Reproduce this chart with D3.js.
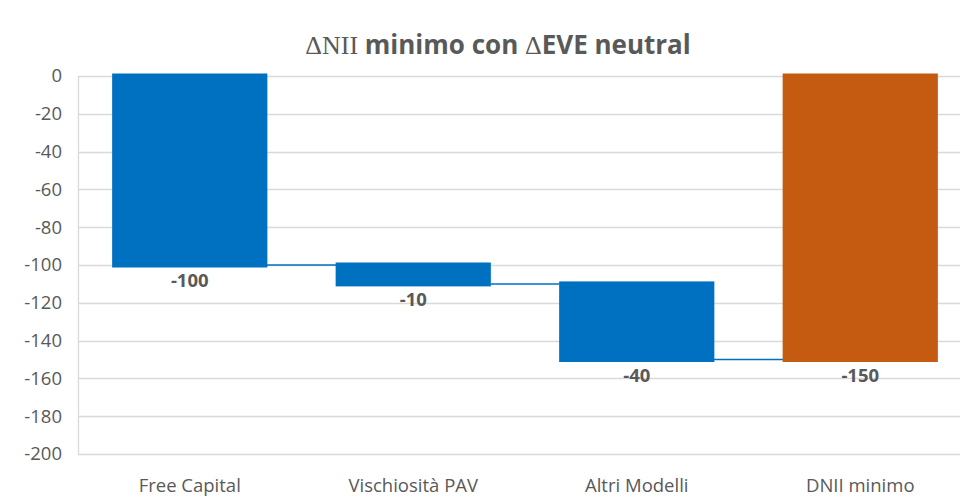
<!DOCTYPE html>
<html>
<head>
<meta charset="utf-8">
<script src="https://cdn.jsdelivr.net/npm/d3@7"></script>
<style>
  body { margin: 0; background: #fff; }
  svg { display: block; }
</style>
</head>
<body>
<div id="chart"></div>
<script>
const categories = ["Free Capital", "Vischiosità PAV", "Altri Modelli", "DNII minimo"]
const deltas = [-100, -10, -40]
const total = -150
const yTicks = [0, -20, -40, -60, -80, -100, -120, -140, -160, -180, -200]

const width = 960, height = 496
const margin = { top: 76, right: -12, bottom: 42, left: 78 }
const grey = "#595959"
const blue = "#0070c0", orange = "#c55a11"
const font = "'Open Sans', 'Noto Sans', sans-serif"
const fs = 18.5

// waterfall steps
let run = 0
const bars = deltas.map((d, i) => {
  const start = run
  run += d
  return { cat: categories[i], start, end: run, value: d, color: blue }
})
bars.push({ cat: categories[3], start: 0, end: total, value: total, color: orange })

const x = d3.scaleBand(categories, [margin.left, width - margin.right]).paddingInner(0.31).paddingOuter(0.155)
const y = d3.scaleLinear([-200, 0], [height - margin.bottom, margin.top])

const svg = d3.select('#chart')
  .append('svg')
  .attr('width', width)
  .attr('height', height)

// gridlines
svg.append("g")
  .selectAll("line")
  .data(yTicks)
  .join("line")
  .attr("x1", margin.left)
  .attr("x2", width)
  .attr("y1", d => Math.round(y(d)) + 0.5)
  .attr("y2", d => Math.round(y(d)) + 0.5)
  .attr("stroke", "#d9d9d9")
  .attr("stroke-width", 1.3)

svg.append("line")
  .attr("x1", margin.left + 0.5).attr("x2", margin.left + 0.5)
  .attr("y1", y(0)).attr("y2", y(-200))
  .attr("stroke", "#d9d9d9")
  .attr("stroke-width", 1.3)

// y labels
svg.append("g")
  .attr("fill", grey)
  .attr("font-family", font)
  .attr("font-size", fs)
  .attr("text-anchor", "end")
  .selectAll("text")
  .data(yTicks)
  .join("text")
  .attr("x", 62)
  .attr("y", d => y(d))
  .attr("dy", "0.35em")
  .text(d => d)

// connectors
svg.append("g")
  .attr("stroke", blue)
  .attr("stroke-width", 1.5)
  .selectAll("line")
  .data(bars.slice(0, -1))
  .join("line")
  .attr("x1", d => x(d.cat) + x.bandwidth())
  .attr("x2", (d, i) => x(bars[i + 1].cat))
  .attr("y1", d => y(d.end))
  .attr("y2", d => y(d.end))

// bars
svg.append("g")
  .selectAll("rect")
  .data(bars)
  .join("rect")
  .attr("x", d => x(d.cat) + 2)
  .attr("width", x.bandwidth() - 4)
  .attr("y", d => y(Math.max(d.start, d.end)))
  .attr("height", d => Math.abs(y(d.start) - y(d.end)))
  .attr("fill", d => d.color)
  .attr("stroke", d => d.color)
  .attr("stroke-width", 5)

// value labels
svg.append("g")
  .attr("fill", grey)
  .attr("font-family", font)
  .attr("font-size", fs)
  .attr("font-weight", "bold")
  .attr("text-anchor", "middle")
  .selectAll("text")
  .data(bars)
  .join("text")
  .attr("x", d => x(d.cat) + x.bandwidth() / 2)
  .attr("y", d => y(Math.min(d.start, d.end)) + 22)
  .text(d => d.value)

// category labels
svg.append("g")
  .attr("fill", grey)
  .attr("font-family", font)
  .attr("font-size", fs)
  .attr("text-anchor", "middle")
  .selectAll("text")
  .data(categories)
  .join("text")
  .attr("x", d => x(d) + x.bandwidth() / 2)
  .attr("y", 492)
  .text(d => d)

// title
const title = svg.append("text")
  .attr("x", 498)
  .attr("y", 54)
  .attr("text-anchor", "middle")
  .attr("fill", grey)
  .attr("font-size", 26)
title.append("tspan").attr("font-family", "'Liberation Serif', serif").text("ΔNII")
title.append("tspan").attr("font-family", font).attr("font-weight", "bold").text(" minimo con ")
title.append("tspan").attr("font-family", "'Liberation Serif', serif").text("Δ")
title.append("tspan").attr("font-family", font).attr("font-weight", "bold").text("EVE neutral")
</script>
</body>
</html>
